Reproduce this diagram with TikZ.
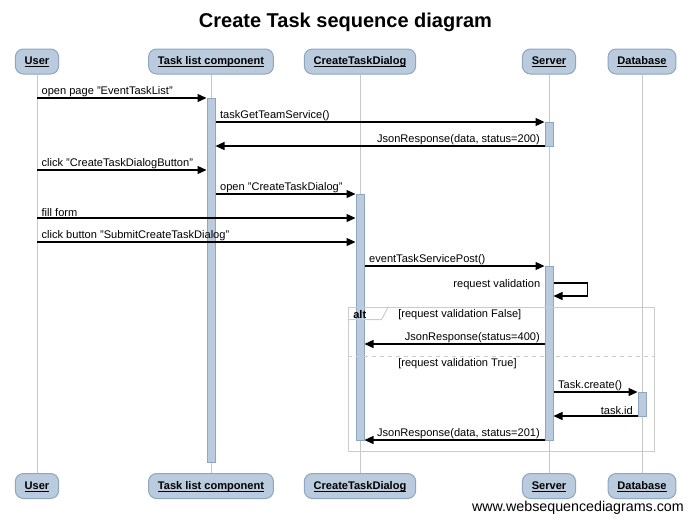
\documentclass[tikz,border=0pt]{standalone}
\usepackage{fontspec}
\setmainfont{Liberation Sans}
\usetikzlibrary{fit}
\usetikzlibrary{positioning}
\usetikzlibrary{arrows.meta}
\usetikzlibrary{calc}
\definecolor{boxfill}{HTML}{B9CBDC}
\definecolor{boxline}{HTML}{8DA6C2}
\definecolor{lifegray}{HTML}{C8C8C8}
\definecolor{framegray}{HTML}{CCCCCC}
\newcommand{\plabel}[1]{\textbf{\underline{\smash{#1}}}}
\tikzset{
    participant/.style={draw=boxline, fill=boxfill, line width=0.75pt, rounded corners=6pt,
        minimum height=18.75pt, inner xsep=7pt, text height=6pt, text depth=1.5pt,
        font=\fontsize{8.3}{10}\selectfont},
    lifeline/.style={draw=lifegray, line width=0.75pt},
    activation/.style={draw=boxline, fill=boxfill, line width=0.75pt, inner sep=0pt},
    msg/.style={-{Triangle[length=6.75pt,width=6pt]}, line width=1pt},
    lbl/.style={font=\fontsize{8.3}{10}\selectfont, inner xsep=3pt, inner ysep=0.5pt},
    altframe/.style={draw=framegray, line width=0.75pt, inner sep=0pt}
}
\begin{document}
\begin{tikzpicture}[x=0.75pt, y=-0.75pt]
        \useasboundingbox (0,0) rectangle (691,522);
        \node[font=\fontsize{15}{18}\selectfont\bfseries] (title) at (345.5,22) {Create Task sequence diagram};
        \node[participant] (userT) at (37,61.5) {\plabel{User}};
        \node[participant] (taskT) at (211,61.5) {\plabel{Task list component}};
        \node[participant] (dlgT) at (360,61.5) {\plabel{CreateTaskDialog}};
        \node[participant] (srvT) at (549,61.5) {\plabel{Server}};
        \node[participant] (dbT) at (642,61.5) {\plabel{Database}};
        \node[participant] (userB) at (37,486) {\plabel{User}};
        \node[participant] (taskB) at (211,486) {\plabel{Task list component}};
        \node[participant] (dlgB) at (360,486) {\plabel{CreateTaskDialog}};
        \node[participant] (srvB) at (549,486) {\plabel{Server}};
        \node[participant] (dbB) at (642,486) {\plabel{Database}};
        \foreach \p in {user, task, dlg, srv, db}
            \draw[lifeline] (\p T) -- (\p B);
        \node[activation, fit={(207,98) (215,462)}] (actTask) {};
        \node[activation, fit={(545,122) (553,146)}] (actSrvA) {};
        \node[activation, fit={(356,194) (364,440)}] (actDlg) {};
        \node[activation, fit={(545,266) (553,440)}] (actSrvB) {};
        \node[activation, fit={(638,392) (646,416)}] (actDb) {};
        \node[altframe, fit={(348,307) (654,451)}] (altbox) {};
        \draw[framegray, line width=0.75pt] (altbox.north west) ++(0,13) -- ++(34,0) -- ++(7,-13);
        \node[lbl, anchor=west, font=\fontsize{8.3}{10}\selectfont\bfseries] (altlbl) at (349,315) {alt};
        \node[lbl, anchor=west] (condF) at (394,315) {[request validation False]};
        \coordinate (sep) at (0,356);
        \draw[framegray, dashed, line width=0.75pt] (altbox.west |- sep) -- (altbox.east |- sep);
        \node[lbl, anchor=west] (condT) at (394,363.5) {[request validation True]};
        \coordinate (m1) at (0,98);
        \coordinate (m2) at (0,122);
        \coordinate (m3) at (0,146);
        \coordinate (m4) at (0,170);
        \coordinate (m5) at (0,194);
        \coordinate (m6) at (0,218);
        \coordinate (m7) at (0,242);
        \coordinate (m8) at (0,266);
        \coordinate (s1) at (0,283);
        \coordinate (s2) at (0,296);
        \coordinate (m9) at (0,344);
        \coordinate (m10) at (0,392);
        \coordinate (m11) at (0,416);
        \coordinate (m12) at (0,440);
        \draw[msg] (userT |- m1) -- (actTask.west |- m1) node[lbl, anchor=south west, at start] {open page "EventTaskList"};
        \draw[msg] (actTask.east |- m2) -- (actSrvA.west |- m2) node[lbl, anchor=south west, at start] {taskGetTeamService()};
        \draw[msg] (actSrvA.west |- m3) -- (actTask.east |- m3) node[lbl, anchor=south east, at start] {JsonResponse(data, status=200)};
        \draw[msg] (userT |- m4) -- (actTask.west |- m4) node[lbl, anchor=south west, at start] {click "CreateTaskDialogButton"};
        \draw[msg] (actTask.east |- m5) -- (actDlg.west |- m5) node[lbl, anchor=south west, at start] {open "CreateTaskDialog"};
        \draw[msg] (userT |- m6) -- (actDlg.west |- m6) node[lbl, anchor=south west, at start] {fill form};
        \draw[msg] (userT |- m7) -- (actDlg.west |- m7) node[lbl, anchor=south west, at start] {click button "SubmitCreateTaskDialog"};
        \draw[msg] (actDlg.east |- m8) -- (actSrvB.west |- m8) node[lbl, anchor=south west, at start] {eventTaskServicePost()};
        \draw[msg] (actSrvB.east |- s1) -- ++(34,0) |- (actSrvB.east |- s2);
        \node[lbl, anchor=east, yshift=-1.5pt] (selflbl) at (actSrvB.west |- s1) {request validation};
        \draw[msg] (actSrvB.west |- m9) -- (actDlg.east |- m9) node[lbl, anchor=south east, at start] {JsonResponse(status=400)};
        \draw[msg] (actSrvB.east |- m10) -- (actDb.west |- m10) node[lbl, anchor=south west, at start] {Task.create()};
        \draw[msg] (actDb.west |- m11) -- (actSrvB.east |- m11) node[lbl, anchor=south east, at start] {task.id};
        \draw[msg] (actSrvB.west |- m12) -- (actDlg.east |- m12) node[lbl, anchor=south east, at start] {JsonResponse(data, status=201)};
        \node[anchor=east, inner sep=0pt, font=\fontsize{10.7}{12}\selectfont] (credit) at (684,508) {www.websequencediagrams.com};
    \end{tikzpicture}
\end{document}
